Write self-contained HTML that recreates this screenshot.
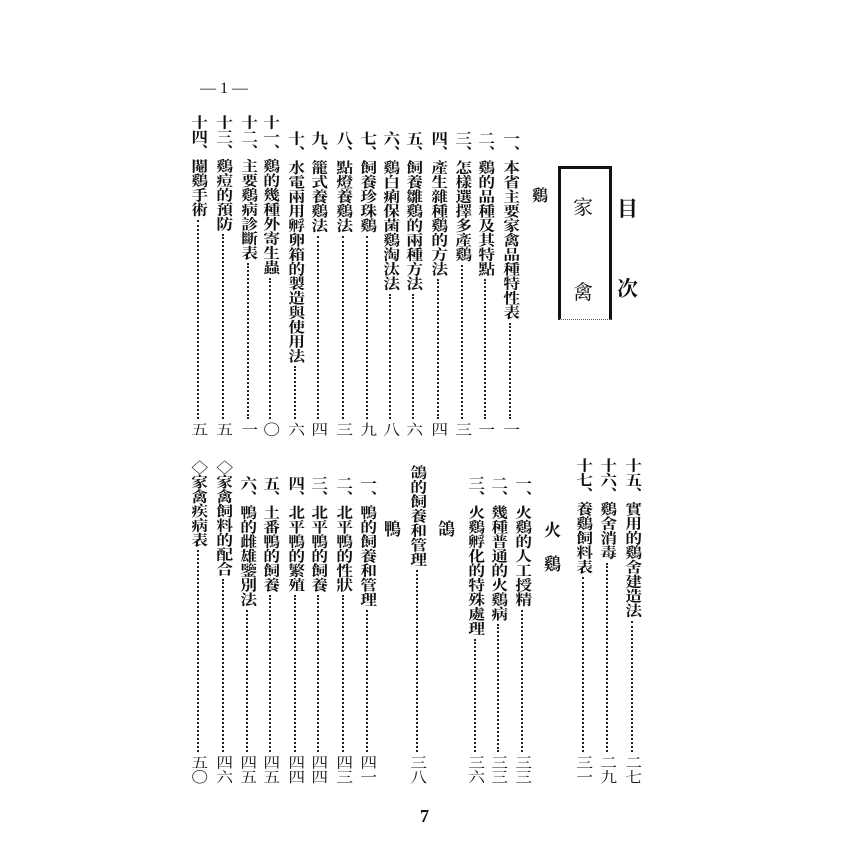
<!DOCTYPE html>
<html><head><meta charset="utf-8"><style>
body{margin:0;width:850px;height:850px;background:#fff;position:relative;overflow:hidden;font-family:"Liberation Serif","Noto Serif CJK SC","Noto Sans CJK TC",serif;color:#111}
.c{position:absolute;width:16px;display:flex;flex-direction:column;align-items:center}
.t,.n{writing-mode:vertical-rl;font-size:14.5px;line-height:16px;transform:scaleX(1.15);font-weight:bold}
.n{font-weight:normal}
.l{flex:1;border-left:2px dotted #222;margin:3px 0}
.a{position:absolute;font-weight:bold}
</style></head><body>
<div class="a" style="left:200px;top:80px;font-size:16px;font-weight:normal">— 1 —</div>

<div class="a" style="left:617px;top:193px;font-size:21px">目</div>
<div class="a" style="left:617px;top:273px;font-size:21px">次</div>
<div style="position:absolute;left:558px;top:166px;width:48px;height:150px;border-left:3px solid #111;border-right:3px solid #111;border-top:3px solid #111;border-bottom:1px dotted #555"></div>
<div class="a" style="left:573px;top:191px;font-size:20px;font-weight:normal">家</div>
<div class="a" style="left:573px;top:276px;font-size:20px;font-weight:normal">禽</div>
<div class="a" style="left:532px;top:183px;font-size:16px">鷄</div>

<div class="c" style="left:502px;top:131px;height:305px"><div class="t">一、本省主要家禽品種特性表</div><div class="l"></div><div class="n">一</div></div>
<div class="c" style="left:477px;top:131px;height:305px"><div class="t">二、鷄的品種及其特點</div><div class="l"></div><div class="n">一</div></div>
<div class="c" style="left:454px;top:131px;height:305px"><div class="t">三、怎樣選擇多產鷄</div><div class="l"></div><div class="n">三</div></div>
<div class="c" style="left:430px;top:131px;height:305px"><div class="t">四、產生雜種鷄的方法</div><div class="l"></div><div class="n">四</div></div>
<div class="c" style="left:405px;top:131px;height:305px"><div class="t">五、飼養雛鷄的兩種方法</div><div class="l"></div><div class="n">六</div></div>
<div class="c" style="left:382px;top:131px;height:305px"><div class="t">六、鷄白痢保菌鷄淘汰法</div><div class="l"></div><div class="n">八</div></div>
<div class="c" style="left:359px;top:131px;height:305px"><div class="t">七、飼養珍珠鷄</div><div class="l"></div><div class="n">九</div></div>
<div class="c" style="left:335px;top:131px;height:305px"><div class="t">八、點燈養鷄法</div><div class="l"></div><div class="n">三</div></div>
<div class="c" style="left:310px;top:131px;height:305px"><div class="t">九、籠式養鷄法</div><div class="l"></div><div class="n">四</div></div>
<div class="c" style="left:287px;top:131px;height:305px"><div class="t">十、水電兩用孵卵箱的製造與使用法</div><div class="l"></div><div class="n">六</div></div>
<div class="c" style="left:262px;top:115px;height:321px"><div class="t">十一、鷄的幾種外寄生蟲</div><div class="l"></div><div class="n">〇</div></div>
<div class="c" style="left:240px;top:115px;height:321px"><div class="t">十二、主要鷄病診斷表</div><div class="l"></div><div class="n">一</div></div>
<div class="c" style="left:215px;top:115px;height:321px"><div class="t">十三、鷄痘的預防</div><div class="l"></div><div class="n">五</div></div>
<div class="c" style="left:190px;top:115px;height:321px"><div class="t">十四、閹鷄手術</div><div class="l"></div><div class="n">五</div></div>

<div class="c" style="left:624px;top:458px;height:326px"><div class="t">十五、實用的鷄舍建造法</div><div class="l"></div><div class="n">二七</div></div>
<div class="c" style="left:599px;top:458px;height:326px"><div class="t">十六、鷄舍消毒</div><div class="l"></div><div class="n">二九</div></div>
<div class="c" style="left:575px;top:458px;height:326px"><div class="t">十七、養鷄飼料表</div><div class="l"></div><div class="n">三一</div></div>
<div class="a" style="left:544px;top:516px;font-size:17px">火</div>
<div class="a" style="left:544px;top:550px;font-size:17px">鷄</div>
<div class="c" style="left:514px;top:476px;height:308px"><div class="t">一、火鷄的人工授精</div><div class="l"></div><div class="n">三三</div></div>
<div class="c" style="left:490px;top:476px;height:308px"><div class="t">二、幾種普通的火鷄病</div><div class="l"></div><div class="n">三三</div></div>
<div class="c" style="left:467px;top:476px;height:308px"><div class="t">三、火鷄孵化的特殊處理</div><div class="l"></div><div class="n">三六</div></div>
<div class="a" style="left:438px;top:515px;font-size:17px">鴿</div>
<div class="c" style="left:409px;top:465px;height:319px"><div class="t">鴿的飼養和管理</div><div class="l"></div><div class="n">三八</div></div>
<div class="a" style="left:384px;top:515px;font-size:17px">鴨</div>
<div class="c" style="left:359px;top:476px;height:308px"><div class="t">一、鴨的飼養和管理</div><div class="l"></div><div class="n">四一</div></div>
<div class="c" style="left:335px;top:476px;height:308px"><div class="t">二、北平鴨的性狀</div><div class="l"></div><div class="n">四三</div></div>
<div class="c" style="left:310px;top:476px;height:308px"><div class="t">三、北平鴨的飼養</div><div class="l"></div><div class="n">四四</div></div>
<div class="c" style="left:287px;top:476px;height:308px"><div class="t">四、北平鴨的繁殖</div><div class="l"></div><div class="n">四四</div></div>
<div class="c" style="left:262px;top:476px;height:308px"><div class="t">五、土番鴨的飼養</div><div class="l"></div><div class="n">四五</div></div>
<div class="c" style="left:239px;top:476px;height:308px"><div class="t">六、鴨的雌雄鑒別法</div><div class="l"></div><div class="n">四五</div></div>
<div class="c" style="left:215px;top:460px;height:324px"><div class="t">◇家禽飼料的配合</div><div class="l"></div><div class="n">四六</div></div>
<div class="c" style="left:190px;top:460px;height:324px"><div class="t">◇家禽疾病表</div><div class="l"></div><div class="n">五〇</div></div>

<div class="a" style="left:420px;top:806px;font-size:18px">7</div>
</body></html>
